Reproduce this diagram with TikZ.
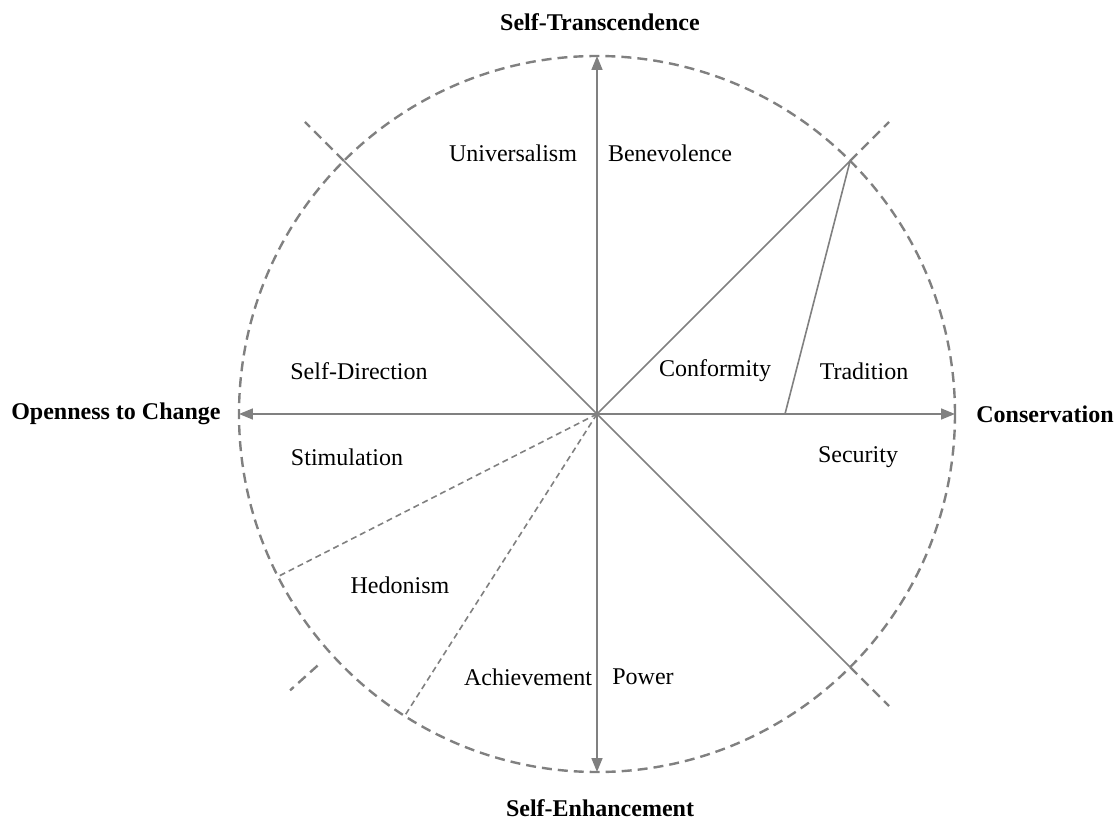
\documentclass[tikz,border=0pt]{standalone}
\usepackage{fontspec}
\setmainfont{Liberation Serif}
\usetikzlibrary{arrows.meta}
\begin{document}
\begin{tikzpicture}[x=0.5pt,y=0.5pt,font=\fontsize{12}{14}\selectfont,line join=round,
		>={Triangle[length=7pt,width=5.5pt]},
		axis/.style={draw=gray,line width=0.8pt},
		rim/.style={draw=gray,line width=1.2pt,dash pattern=on 5pt off 3pt},
		split/.style={draw=gray,line width=0.8pt,dash pattern=on 3pt off 2pt},
		value/.style={inner sep=0pt},
		pole/.style={inner sep=0pt,font=\fontsize{12}{14}\selectfont\bfseries}]
	\useasboundingbox (-597,-405) rectangle (522,414);
	\coordinate (O) at (0,0);
	\foreach \a/\n in {90/T,270/B,180/L,0/R,45/NE,135/NW,315/SE,207/SW1,237.5/SW2}
		\coordinate (\n) at (\a:358);
	\coordinate (tr) at (188,0);
	% circle and the short marks outside it
	\draw[rim] (O) circle (358);
	\foreach \a/\r in {45/358,135/358,315/358,222/376}
		\draw[rim] (\a:\r) -- (\a:413);
	% axes
	\draw[axis,<->] (B) -- (T);
	\draw[axis,<->] (L) -- (R);
	\draw[axis] (NW) -- (SE);
	\draw[axis] (O) -- (NE) -- (tr);
	\draw[split] (O) -- (SW1);
	\draw[split] (O) -- (SW2);
	% poles
	\node[pole] (st) at (3,392) {Self-Transcendence};
	\node[pole] (se) at (3,-394) {Self-Enhancement};
	\node[pole] (oc) at (-481,0) {Openness to Change};
	\node[pole] (co) at (448,0) {Conservation};
	% values
	\node[value] (uni) at (-84,261) {Universalism};
	\node[value] (ben) at (73,261) {Benevolence};
	\node[value] (sd) at (-238,43) {Self-Direction};
	\node[value] (con) at (118,43) {Conformity};
	\node[value] (tra) at (267,43) {Tradition};
	\node[value] (sti) at (-250,-43) {Stimulation};
	\node[value] (sec) at (261,-43) {Security};
	\node[value] (hed) at (-197,-171) {Hedonism};
	\node[value] (ach) at (-69,-263) {Achievement};
	\node[value] (pow) at (46,-263) {Power};
\end{tikzpicture}
\end{document}
